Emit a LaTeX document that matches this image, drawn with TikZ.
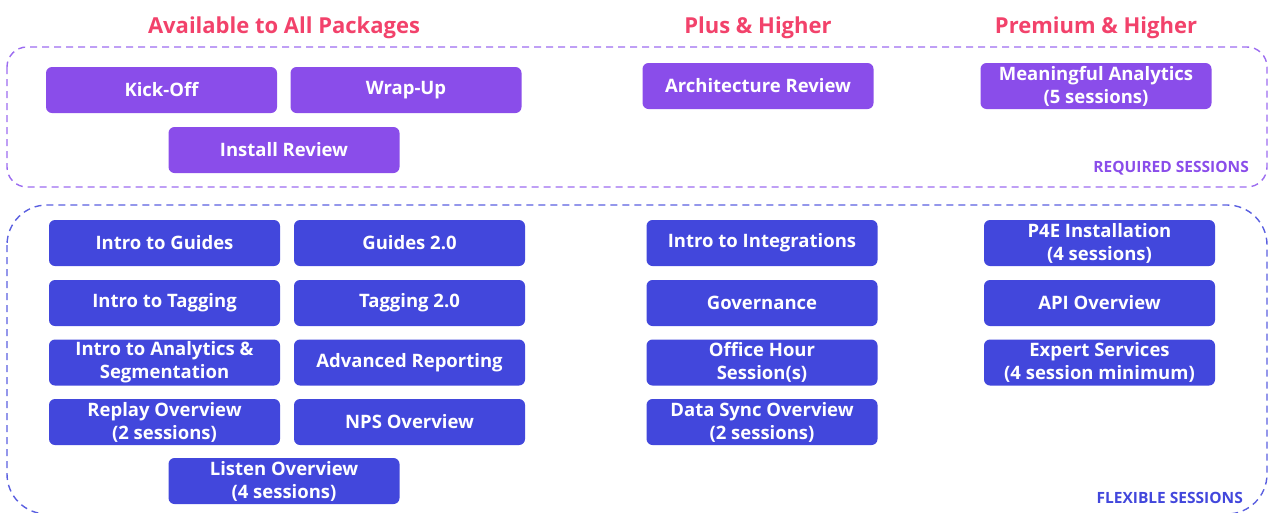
\documentclass[tikz,border=0pt]{standalone}
\usepackage{fontspec}
\setmainfont{Open Sans}
\definecolor{hdr}{HTML}{F2426B}
\definecolor{purp}{HTML}{8A4DEA}
\definecolor{blu}{HTML}{4247DC}
\definecolor{purpline}{HTML}{9C6CF0}
\definecolor{bluline}{HTML}{5A5FE0}
\tikzset{
  box/.style={rectangle, rounded corners=6pt, minimum width=231pt, minimum height=46pt,
    inner sep=0pt, align=center, text=white, font=\fontsize{18.5}{23}\selectfont\bfseries},
  reqbox/.style={box, fill=purp},
  flexbox/.style={box, fill=blu},
  header/.style={text=hdr, font=\fontsize{22}{26}\selectfont\bfseries},
  grouplabel/.style={anchor=east, inner sep=0pt, font=\fontsize{15.5}{18}\selectfont\bfseries},
  group/.style={dash pattern=on 7pt off 5pt, line width=1.4pt}
}
\begin{document}
\begin{tikzpicture}[x=1pt,y=-1pt]
\useasboundingbox (0,0) rectangle (1268,512);
\clip (0,0) rectangle (1268,512);
% groups
\draw[group, draw=purpline, rounded corners=20pt] (7,47) rectangle (1267,187);
\draw[group, draw=bluline, rounded corners=40pt] (7,205) rectangle (1267,514);
% headers
\node[header] (h1) at (284,28) {Available to All Packages};
\node[header] (h2) at (758,28) {Plus \& Higher};
\node[header] (h3) at (1096,28) {Premium \& Higher};
% required
\node[reqbox] (kick) at (161.5,90) {Kick-Off};
\node[reqbox] (wrap) at (406,90) {Wrap-Up};
\node[reqbox] (inst) at (284,150) {Install Review};
\node[reqbox] (arch) at (758,86) {Architecture Review};
\node[reqbox] (mean) at (1096,86) {Meaningful Analytics\\(5 sessions)};
\node[grouplabel, text=purp] (req) at (1249,168) {REQUIRED SESSIONS};
% flexible
\node[flexbox] (ig) at (164.5,243) {Intro to Guides};
\node[flexbox] (g2) at (409.5,243) {Guides 2.0};
\node[flexbox] (it) at (164.5,303) {Intro to Tagging};
\node[flexbox] (t2) at (409.5,303) {Tagging 2.0};
\node[flexbox] (ia) at (164.5,362.5) {Intro to Analytics \&\\Segmentation};
\node[flexbox] (ar) at (409.5,362.5) {Advanced Reporting};
\node[flexbox] (ro) at (164.5,422) {Replay Overview\\(2 sessions)};
\node[flexbox] (nps) at (409.5,422) {NPS Overview};
\node[flexbox] (lo) at (284,481) {Listen Overview\\(4 sessions)};
\node[flexbox] (ii) at (762,243) {Intro to Integrations};
\node[flexbox] (gov) at (762,303) {Governance};
\node[flexbox] (oh) at (762,362.5) {Office Hour\\Session(s)};
\node[flexbox] (ds) at (762,422) {Data Sync Overview\\(2 sessions)};
\node[flexbox] (p4e) at (1099.5,243) {P4E Installation\\(4 sessions)};
\node[flexbox] (api) at (1099.5,303) {API Overview};
\node[flexbox] (es) at (1099.5,362.5) {Expert Services\\(4 session minimum)};
\node[grouplabel, text=blu] (flex) at (1243,498) {FLEXIBLE SESSIONS};
\end{tikzpicture}
\end{document}
